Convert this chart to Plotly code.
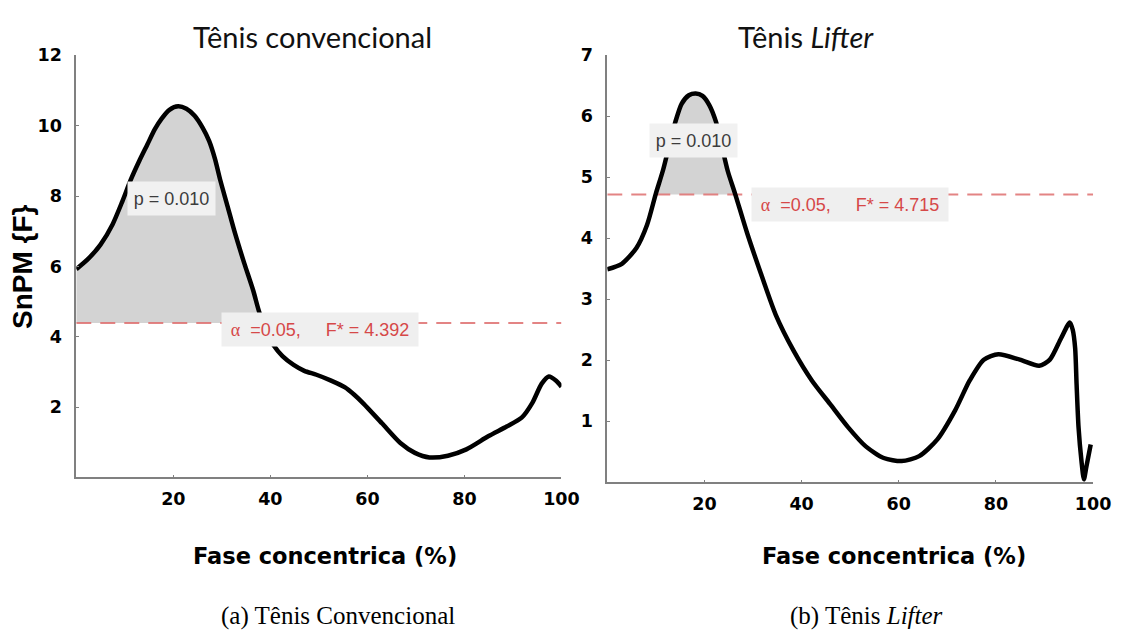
import numpy as np
import plotly.graph_objects as go

# ---- SnPM{F} curves over the concentric phase (%) ----
pct_conv = [0, 2.5, 5, 7.5, 9.5, 11.2, 13.0, 14.6, 16.2, 17.6, 19.2, 21.0, 22.7, 24.4, 26.0,
            27.4, 28.6, 29.7, 31.2, 32.7, 34.6, 36.5, 37.6, 39.0, 40.7, 42.5, 44.8, 47.0,
            49.5, 52.4, 55.4, 57.3, 59.2, 63.0, 66.8, 69.8, 72.8, 76.6, 80.4, 84.9, 88.7,
            91.8, 94.0, 95.9, 97.4, 98.9, 100]
snpm_conv = [5.92, 6.22, 6.62, 7.20, 7.85, 8.45, 9.00, 9.45, 9.90, 10.20, 10.45, 10.55, 10.48,
             10.28, 9.95, 9.56, 9.05, 8.44, 7.70, 6.95, 6.10, 5.30, 4.75, 4.20, 3.75, 3.45,
             3.20, 3.03, 2.92, 2.76, 2.56, 2.35, 2.10, 1.54, 0.98, 0.70, 0.57, 0.62, 0.80,
             1.17, 1.45, 1.70, 2.12, 2.66, 2.87, 2.75, 2.58]
fcrit_conv = 4.392
p_conv = "0.010"

pct_lift = [0, 3, 6, 8.2, 10.0, 11.5, 13.0, 14.0, 15.3, 16.8, 18.2, 19.6, 21.0, 22.4, 23.6,
            24.8, 26.3, 28.8, 31.8, 34.7, 38.4, 42.1, 45.8, 49.5, 53.2, 56.9, 60.6, 64.2,
            67.9, 71.6, 74.6, 77.5, 80.5, 84.9, 88.9, 91.1, 93.4, 95.2, 95.8, 96.3, 96.6,
            97.0, 97.6, 98.1, 98.6, 99.5]
snpm_lift = [3.49, 3.58, 3.84, 4.22, 4.73, 5.12, 5.60, 5.90, 6.20, 6.34, 6.37, 6.33, 6.18,
             5.90, 5.50, 5.10, 4.73, 4.08, 3.38, 2.74, 2.15, 1.67, 1.29, 0.91, 0.59, 0.40,
             0.35, 0.43, 0.70, 1.18, 1.67, 2.01, 2.10, 2.01, 1.91, 2.01, 2.36, 2.62, 2.50,
             2.20, 1.60, 0.90, 0.35, 0.05, 0.25, 0.62]
fcrit_lift = 4.715
p_lift = "0.010"

x_ticks = [20, 40, 60, 80, 100]
y_ticks_conv = [2, 4, 6, 8, 10, 12]
y_ticks_lift = [1, 2, 3, 4, 5, 6, 7]

panel_titles = ["Tênis convencional", "Tênis <i>Lifter</i>"]
captions = ["(a) Tênis Convencional", "(b) Tênis <i>Lifter</i>"]
x_title = "Fase concentrica (%)"
y_title = "SnPM {F}"

NBSP = "\u00a0"
RED = "rgb(214,72,72)"
FILL = "#d3d3d3"
AXIS = "#808080"


def supra_threshold_cluster(x, y, thr):
    """Polygon enclosing the part of the curve that lies above the threshold."""
    x = np.asarray(x, float)
    y = np.asarray(y, float)
    px, py = [], []
    for i in range(len(x)):
        if i > 0 and (y[i - 1] - thr) * (y[i] - thr) < 0:
            xc = x[i - 1] + (thr - y[i - 1]) * (x[i] - x[i - 1]) / (y[i] - y[i - 1])
            px.append(xc)
            py.append(thr)
        if y[i] >= thr:
            px.append(x[i])
            py.append(y[i])
    px += [px[-1], px[0], px[0]]
    py += [thr, thr, py[0]]
    return px, py


fig = go.Figure()

panels = [
    (pct_conv, snpm_conv, fcrit_conv, "x", "y"),
    (pct_lift, snpm_lift, fcrit_lift, "x2", "y2"),
]
for xs, ys, thr, xa, ya in panels:
    fx, fy = supra_threshold_cluster(xs, ys, thr)
    fig.add_trace(go.Scatter(x=fx, y=fy, mode="lines", fill="toself", fillcolor=FILL,
                             line=dict(width=0, color=FILL), hoverinfo="skip",
                             xaxis=xa, yaxis=ya, showlegend=False))
    fig.add_trace(go.Scatter(x=[0, 100], y=[thr, thr], mode="lines",
                             line=dict(color="rgba(222,110,110,0.85)", width=2, dash="15px,9px"),
                             xaxis=xa, yaxis=ya, showlegend=False))
    fig.add_trace(go.Scatter(x=xs, y=ys, mode="lines",
                             line=dict(color="black", width=4.5, shape="spline", smoothing=0.7),
                             xaxis=xa, yaxis=ya, showlegend=False))

tick_font = dict(family="DejaVu Sans", size=17.5, color="black", weight="bold")
xaxis_common = dict(range=[0, 100], tickvals=x_ticks, ticktext=[str(t) for t in x_ticks],
                    showline=True, linecolor=AXIS, linewidth=1.6, ticks="inside", ticklen=3,
                    tickcolor=AXIS, tickwidth=1.2, showgrid=False, zeroline=False,
                    tickfont=tick_font, ticklabelstandoff=5)
yaxis_common = dict(showline=True, linecolor=AXIS, linewidth=1.6, ticks="inside", ticklen=3,
                    tickcolor=AXIS, tickwidth=1.2, showgrid=False, zeroline=False,
                    tickfont=tick_font, ticklabelstandoff=9)

fig.update_layout(
    width=1138, height=632, margin=dict(l=0, r=0, t=0, b=0),
    paper_bgcolor="white", plot_bgcolor="white", showlegend=False,
    xaxis=dict(domain=[0.0681, 0.5013], anchor="y", **xaxis_common),
    yaxis=dict(domain=[0.2484, 0.9272], anchor="x", range=[0, 12], tickvals=y_ticks_conv,
               ticktext=[str(t) for t in y_ticks_conv], **yaxis_common),
    xaxis2=dict(domain=[0.5422, 0.9760], anchor="y2", **xaxis_common),
    yaxis2=dict(domain=[0.2405, 0.9277], anchor="x2", range=[0, 7], tickvals=y_ticks_lift,
                ticktext=[str(t) for t in y_ticks_lift], **yaxis_common),
)

annotations = []

# p-value labels of the supra-threshold clusters
for txt, xa, ya, xv, yv in [(p_conv, "x", "y", 19.6, 7.92), (p_lift, "x2", "y2", 17.8, 5.60)]:
    annotations.append(dict(text=f"p = {txt}", xref=xa, yref=ya, x=xv, y=yv, showarrow=False,
                            font=dict(family="Liberation Sans", size=18, color="#3c3c3c"),
                            bgcolor="#f1f1f1", width=81, height=27, borderpad=3))

# critical threshold labels
for thr, xa, ya, xv, yv in [(fcrit_conv, "x", "y", 50.3, 4.20), (fcrit_lift, "x2", "y2", 49.9, 4.55)]:
    label = (f"<span style='font-family:Liberation Serif'>α</span>{NBSP * 2}=0.05,"
             f"{NBSP * 5}F* = {thr:.3f}")
    annotations.append(dict(text=label, xref=xa, yref=ya, x=xv, y=yv, showarrow=False,
                            font=dict(family="Liberation Sans", size=18, color=RED),
                            bgcolor="#efefef", width=190, height=27, borderpad=3))

# panel titles
for txt, xc in zip(panel_titles, [318 / 1138, 819 / 1138]):
    annotations.append(dict(text=txt, xref="paper", yref="paper", x=xc, y=1 - 27 / 632,
                            xanchor="center", yanchor="middle", showarrow=False,
                            font=dict(family="Lato", size=29, color="#111111")))

# axis titles
annotations.append(dict(text=y_title, xref="paper", yref="paper", x=23.5 / 1138, y=1 - 261 / 632,
                        xanchor="center", yanchor="middle", textangle=-90, showarrow=False,
                        font=dict(family="Liberation Sans", size=28, color="black", weight="bold")))
for xc in [330 / 1138, 908 / 1138]:
    annotations.append(dict(text=x_title, xref="paper", yref="paper", x=xc, y=1 - 555 / 632,
                            xanchor="center", yanchor="middle", showarrow=False,
                            font=dict(family="DejaVu Sans", size=22.5, color="black", weight="bold")))

# sub-figure captions
for txt, xc in zip(captions, [343 / 1138, 880 / 1138]):
    annotations.append(dict(text=txt, xref="paper", yref="paper", x=xc, y=1 - 616 / 632,
                            xanchor="center", yanchor="middle", showarrow=False,
                            font=dict(family="Liberation Serif", size=25, color="black")))

fig.update_layout(annotations=annotations)
fig.write_html("out.html")
